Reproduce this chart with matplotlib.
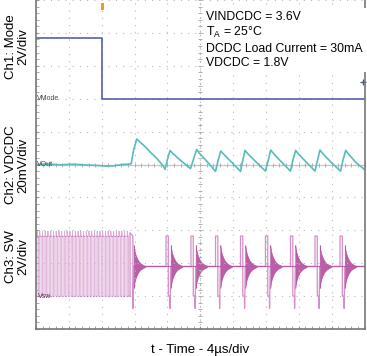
import matplotlib
matplotlib.use('Agg')
import numpy as np
import matplotlib.pyplot as plt
from matplotlib.ticker import MultipleLocator
from matplotlib.patches import Rectangle

plt.rcParams['font.family'] = ['Liberation Sans', 'DejaVu Sans']

# channel settings: (ground position in divisions, volts per division)
ch1_offset, ch1_scale = 7.0, 2.0      # Mode, 2V/div
ch2_offset, ch2_scale = 5.0, 20.0     # VDCDC ripple, 20mV/div (values in mV)
ch3_offset, ch3_scale = 1.0, 2.0      # SW, 2V/div

# Ch1: mode pin (us, V)
mode_t = [0.0, 8.04, 8.04, 40.0]
mode_v = [3.7, 3.7, 0.0, 0.0]

# Ch2: output ripple (us, mV around 1.8V)
vout_t = [0.0, 1.5, 3.0, 4.5, 6.0, 7.5, 8.5, 9.5, 10.5, 11.2, 11.6, 11.85, 12.26,
          12.7, 13.3, 13.88, 14.7, 15.5, 15.71,
          16.0, 16.32, 16.7, 17.6, 18.81,
          19.2, 19.57, 19.9, 20.8, 21.86,
          22.2, 22.49, 22.85, 23.8, 24.9,
          25.2, 25.45, 25.8, 26.8, 27.94,
          28.3, 28.58, 28.95, 29.9, 30.99,
          31.3, 31.62, 31.95, 32.9, 33.97,
          34.3, 34.58, 34.95, 35.9, 37.08,
          37.4, 37.71, 38.05, 39.0, 40.0]
vout_mv = [0.0, 0.3, -0.2, 0.2, -0.3, -0.6, -1.0, -0.8, 0.0, 0.2, 0.5, 8.0, 15.5,
           13.5, 10.8, 7.7, 3.8, -1.0, -3.0,
           3.0, 8.5, 6.5, 2.5, -2.5,
           3.5, 9.2, 6.8, 2.0, -4.2,
           3.0, 8.2, 6.3, 1.5, -4.2,
           3.0, 8.6, 6.5, 1.5, -4.0,
           3.0, 8.8, 6.5, 1.5, -4.0,
           3.0, 8.6, 6.4, 1.5, -4.0,
           3.0, 8.8, 6.5, 1.5, -4.0,
           3.0, 8.6, 6.4, 1.0, -3.0]

# Ch3: switch node
burst_rise = [0.12, 0.45, 0.79, 1.12, 1.45, 1.79, 2.12, 2.45, 2.79, 3.12, 3.45, 3.78,
              4.12, 4.45, 4.78, 5.12, 5.45, 5.78, 6.12, 6.45, 6.78, 7.12, 7.45, 7.78,
              8.12, 8.45, 8.78, 9.11, 9.45, 9.78, 10.11, 10.45, 10.78, 11.11, 11.45]
pfm_rise = [15.83, 18.87, 21.86, 24.90, 27.94, 30.99, 33.97, 37.02]
sw_high, sw_ring_level, sw_under = 3.65, 1.8, -0.75
ring_dt = [0.0, 0.08, 0.2, 0.35, 0.55, 0.8, 1.1, 1.4]
ring_amp = [1.3, 1.0, 0.75, 0.55, 0.35, 0.2, 0.1, 0.03]

blue = '#4654a6'
teal = '#58bcbc'
mag_light = '#d48ec9'
mag_burst = '#dcaad4'
mag_dark = '#b24c9e'

fig = plt.figure(figsize=(3.67, 3.56), dpi=100)
ax = fig.add_axes([36 / 367, 27 / 356, 328.5 / 367, 329 / 356])
ax.set_xlim(0, 40)
ax.set_ylim(0, 10)

# graticule
ax.xaxis.set_major_locator(MultipleLocator(4))
ax.yaxis.set_major_locator(MultipleLocator(1))
ax.xaxis.set_minor_locator(MultipleLocator(0.8))
ax.yaxis.set_minor_locator(MultipleLocator(0.2))
ax.grid(True, which='major', color='#b8b8b8', linestyle=(0, (1, 5.5)), linewidth=0.8)
ax.tick_params(which='both', direction='in', length=2, color='#999999',
               labelleft=False, labelbottom=False)
ax.axhline(5, color='#c8c8c8', linewidth=0.9, zorder=1)
ax.axvline(20, color='#b0b0b0', linestyle=(0, (1, 3)), linewidth=0.8, zorder=1)
ax.plot(np.arange(0, 40.01, 0.8), np.full(51, 5.0), '|', color='#b0b0b0', ms=3, mew=0.7)
ax.plot(np.full(51, 20.0), np.arange(0, 10.01, 0.2), '_', color='#b0b0b0', ms=3, mew=0.7)
for side in ['left', 'bottom', 'right']:
    ax.spines[side].set_color('#777777')
    ax.spines[side].set_linewidth(1.2)
ax.spines['top'].set_visible(False)

# Ch1
ax.plot(mode_t, [ch1_offset + v / ch1_scale for v in mode_v], color=blue, lw=1.1)

# Ch2
ax.plot(vout_t, [ch2_offset + v / ch2_scale for v in vout_mv], color=teal, lw=1.2)

# Ch3: burst section drawn lighter, then the PFM pulses
b_t, b_v = [0.0], [0.0]
for r in burst_rise[:-1]:
    b_t += [r, r, r + 0.03, r + 0.17, r + 0.17]
    b_v += [0.0, sw_high + 0.3, sw_high, sw_high, 0.0]
ax.plot(b_t, [ch3_offset + v / ch3_scale for v in b_v], color=mag_burst, lw=0.6)
# dark top and bottom levels of the burst
for lvl in [sw_high, 0.0]:
    ax.plot([burst_rise[0], burst_rise[-1]], [ch3_offset + lvl / ch3_scale] * 2,
            color=mag_dark, lw=0.6, linestyle=(0, (1.5, 2.2)), alpha=0.8)

r = burst_rise[-1]
sw_t = [r - 0.16, r, r, r + 0.35, r + 0.35, r + 0.45]
sw_v = [0.0, 0.0, sw_high + 0.2, sw_high, sw_under, sw_ring_level]
ring_starts = [r + 0.45]
for p in pfm_rise:
    sw_t += [p, p, p + 0.28, p + 0.28, p + 0.48, p + 0.5, p + 0.58]
    sw_v += [sw_ring_level, sw_high, sw_high, 0.0, 0.0, sw_under, sw_ring_level]
    ring_starts.append(p + 0.58)
sw_t.append(40.0)
sw_v.append(sw_ring_level)
ax.plot(sw_t, [ch3_offset + v / ch3_scale for v in sw_v], color=mag_light, lw=0.9)
ax.plot([ring_starts[0], 40], [ch3_offset + sw_ring_level / ch3_scale] * 2,
        color=mag_dark, lw=0.9, alpha=0.8)
for s in ring_starts:
    tt = [s + d for d in ring_dt]
    lo = [ch3_offset + (sw_ring_level - a) / ch3_scale for a in ring_amp]
    hi = [ch3_offset + (sw_ring_level + a) / ch3_scale for a in ring_amp]
    ax.fill_between(tt, lo, hi, color=mag_dark, lw=0.5, alpha=0.9)

# ground reference labels and markers
lab_kw = dict(fontsize=5, color='#444444', va='center', ha='left')
ax.text(0.1, ch1_offset, 'VMode', **lab_kw)
ax.text(0.1, ch2_offset, 'VOut', **lab_kw)
ax.text(0.2, ch3_offset, 'Vsw', **lab_kw)
ax.add_patch(Rectangle((7.9, 9.72), 0.3, 0.2, facecolor='#f0a030', edgecolor='#d08020',
                       lw=0.5, clip_on=False, zorder=5))
ax.plot(39.8, 7.52, marker='+', color=blue, ms=4, mew=1.0, clip_on=False)

# conditions box
ax.text(0.519, 0.968,
        'VINDCDC = 3.6V\nT$_{\\mathregular{A}}$ = 25°C\nDCDC Load Current = 30mA\nVDCDC = 1.8V',
        transform=ax.transAxes, ha='left', va='top', fontsize=8.8, linespacing=1.25,
        bbox=dict(facecolor='white', edgecolor='none', pad=2), zorder=6)

# channel labels
lkw = dict(rotation=90, ha='center', va='center', fontsize=9.5, linespacing=1.1,
           multialignment='center')
fig.text(17 / 367, 1 - 47 / 356, 'Ch1: Mode\n2V/div', **lkw)
fig.text(17 / 367, 1 - 165 / 356, 'Ch2: VDCDC\n20mV/div', **lkw)
fig.text(17 / 367, 1 - 257 / 356, 'Ch3: SW\n2V/div', **lkw)
fig.text(200 / 367, 1 - 350 / 356, 't - Time - 4µs/div', ha='center', va='center',
         fontsize=9.5)

plt.savefig('out.png', dpi=100)
